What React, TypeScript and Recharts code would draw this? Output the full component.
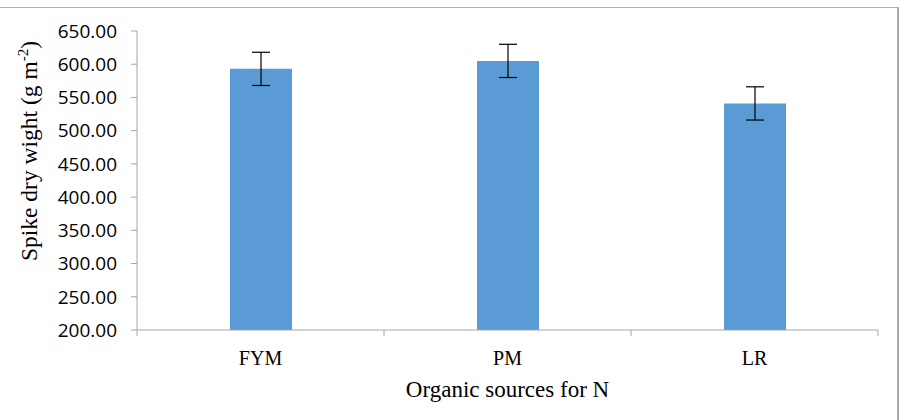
import React from 'react';
import { BarChart, Bar, XAxis, YAxis, ErrorBar, Label } from 'recharts';

const categories = ['FYM', 'PM', 'LR'];
const values = [593, 605, 541];
const errors = [25, 25, 25];
const yTicks = [200, 250, 300, 350, 400, 450, 500, 550, 600, 650];

const data = categories.map((c, i) => ({ name: c, value: values[i], err: errors[i] }));

const axisColor = '#A6A6A6';
const serif = "'Liberation Serif', 'Times New Roman', serif";
const plotWidth = 901 - 137 - 23;

// category label plus tick marks on the category boundaries (Excel style)
const XTick = (props: any) => {
  const { x, y, payload, index } = props;
  const half = payload && typeof payload.offset === 'number' && payload.offset > 0
    ? payload.offset
    : plotWidth / categories.length / 2;
  const axisY = y - 21;
  return (
    <g>
      <line x1={x - half} y1={axisY} x2={x - half} y2={axisY + 6} stroke={axisColor} />
      {index === categories.length - 1 && (
        <line x1={x + half} y1={axisY} x2={x + half} y2={axisY + 6} stroke={axisColor} />
      )}
      <text x={x} y={y} dy="0.71em" textAnchor="middle" fontFamily={serif} fontSize={20} fill="#000">
        {payload.value}
      </text>
    </g>
  );
};

const YTitle = () => {
  const x = 37;
  const y = 151;
  return (
    <text
      x={x}
      y={y}
      transform={`rotate(-90, ${x}, ${y})`}
      textAnchor="middle"
      fontFamily={serif}
      fontSize={23.5}
      fill="#000"
    >
      Spike dry wight (g m
      <tspan dy={-9} fontSize={15}>-2</tspan>
      <tspan dy={9}>)</tspan>
    </text>
  );
};

const App: React.FC = () => {
  return (
    <div style={{ position: 'absolute', left: 0, top: 0, width: 901, height: 420, background: '#fff' }}>
      <div
        style={{
          position: 'absolute',
          left: 0,
          top: 7,
          width: 899,
          height: 413,
          borderTop: '1px solid #B0B0B0',
          borderRight: '2px solid #A8A8A8',
          boxSizing: 'border-box',
        }}
      />
      <BarChart
        width={901}
        height={420}
        data={data}
        margin={{ top: 31, right: 23, left: 0, bottom: 0 }}
        style={{ position: 'absolute', left: 0, top: 0 }}
      >
        <XAxis
          dataKey="name"
          height={90}
          interval={0}
          tickSize={0}
          tickMargin={21}
          tickLine={false}
          tick={<XTick />}
          axisLine={{ stroke: axisColor }}
        >
          <Label
            value="Organic sources for N"
            position="insideBottom"
            offset={23}
            style={{ fontFamily: serif, fontSize: 23, fill: '#000' }}
          />
        </XAxis>
        <YAxis
          width={137}
          domain={[200, 650]}
          ticks={yTicks}
          allowDataOverflow
          tickFormatter={(v: number) => v.toFixed(2)}
          tickSize={6}
          tickMargin={14}
          axisLine={{ stroke: axisColor }}
          tickLine={{ stroke: axisColor }}
          tick={{ fontFamily: "'Open Sans', sans-serif", fontSize: 19, fill: '#000' }}
          label={<YTitle />}
        />
        <Bar dataKey="value" fill="#5B9BD5" barSize={62} isAnimationActive={false}>
          <ErrorBar dataKey="err" width={9} stroke="#000" strokeWidth={1.2} isAnimationActive={false} />
        </Bar>
      </BarChart>
    </div>
  );
};

export default App;
